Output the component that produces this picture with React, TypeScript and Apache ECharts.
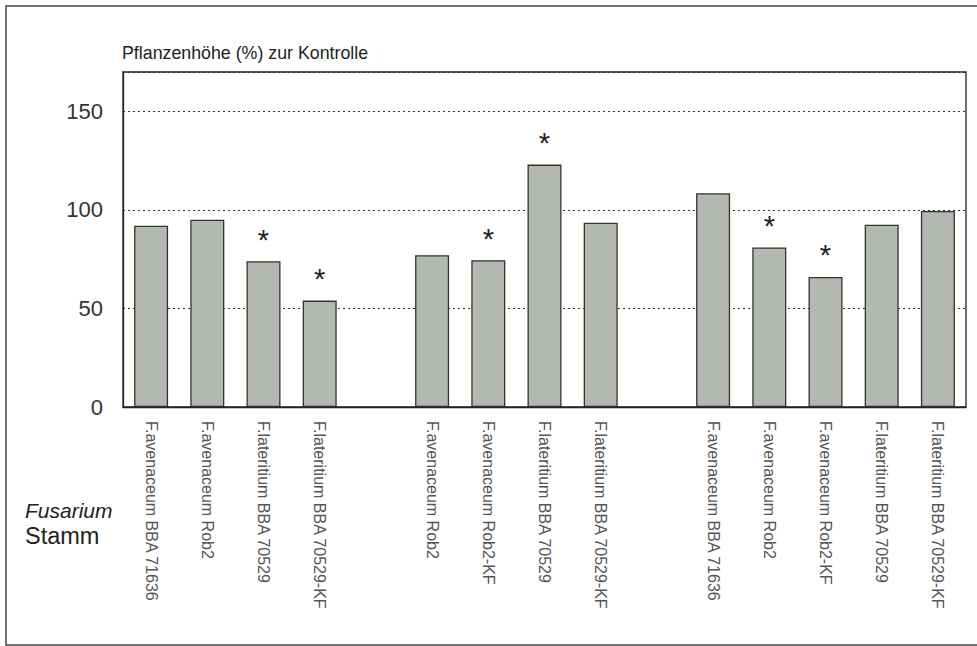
import React, { useEffect, useRef } from "react";
import * as echarts from "echarts";

// Categories ('' = spacer between strain groups)
const categories: string[] = [
  "F.avenaceum BBA 71636",
  "F.avenaceum Rob2",
  "F.lateritium BBA 70529",
  "F.lateritium BBA 70529-KF",
  "",
  "F.avenaceum Rob2",
  "F.avenaceum Rob2-KF",
  "F.lateritium BBA 70529",
  "F.lateritium BBA 70529-KF",
  "",
  "F.avenaceum BBA 71636",
  "F.avenaceum Rob2",
  "F.avenaceum Rob2-KF",
  "F.lateritium BBA 70529",
  "F.lateritium BBA 70529-KF",
];

// Plant height (% of control)
const heights: (number | null)[] = [92, 95, 74, 54, null, 77, 74.5, 123, 93.5, null, 108.5, 81, 66, 92.5, 99.5];

// Significance markers (*)
const significant: boolean[] = [false, false, true, true, false, false, true, true, false, false, false, true, true, false, false];

const yTicks = [0, 50, 100, 150];

const FONT = "'Liberation Sans', Arial, Helvetica, sans-serif";

export default function App() {
  const ref = useRef<HTMLDivElement>(null);

  useEffect(() => {
    if (!ref.current) return;
    const chart = echarts.init(ref.current, null, { renderer: "svg" });

    const data = heights.map((v, i) =>
      v === null
        ? "-"
        : {
            value: v,
            label: significant[i]
              ? {
                  show: true,
                  position: "top",
                  distance: 7,
                  formatter: "*",
                  fontSize: 29,
                  fontFamily: FONT,
                  color: "#222",
                }
              : { show: false },
          }
    );

    chart.setOption({
      animation: false,
      backgroundColor: "#ffffff",
      textStyle: { fontFamily: FONT },
      grid: {
        left: 123,
        right: 11,
        top: 72,
        bottom: 239,
        show: true,
        borderColor: "#222",
        borderWidth: 1.3,
        containLabel: false,
      },
      title: {
        text: "Pflanzenhöhe (%) zur Kontrolle",
        left: 122,
        top: 44,
        padding: 0,
        textStyle: { fontFamily: FONT, fontSize: 17.8, fontWeight: "normal", color: "#222" },
      },
      xAxis: {
        type: "category",
        data: categories,
        axisLine: { show: true, lineStyle: { color: "#222", width: 1.3 } },
        axisTick: { show: false },
        axisLabel: {
          rotate: -90,
          interval: 0,
          margin: 14,
          fontSize: 16,
          fontFamily: FONT,
          color: "#555",
        },
      },
      yAxis: {
        type: "value",
        min: 0,
        max: 170,
        interval: 50,
        axisLine: { show: true, lineStyle: { color: "#222", width: 1.3 } },
        axisTick: { show: false },
        axisLabel: {
          showMaxLabel: false,
          margin: 20,
          fontSize: 22,
          fontFamily: FONT,
          color: "#333",
          formatter: (v: number) => (yTicks.includes(v) ? String(v) : ""),
        },
        splitLine: {
          show: true,
          lineStyle: { color: "#333", type: [2, 3], width: 1 },
        },
      },
      series: [
        {
          type: "bar",
          data,
          barWidth: 34,
          itemStyle: { color: "#b3b8b1", borderColor: "#333", borderWidth: 1.3 },
        },
      ],
      graphic: [
        {
          type: "rect",
          shape: { x: 6, y: 6, width: 1000, height: 639 },
          style: { fill: "none", stroke: "#444", lineWidth: 1.5 },
          silent: true,
        },
        {
          type: "text",
          left: 25,
          top: 500,
          style: {
            text: "Fusarium",
            font: `italic 21px ${FONT}`,
            fill: "#222",
          },
        },
        {
          type: "text",
          left: 25,
          top: 524,
          style: {
            text: "Stamm",
            font: `23.5px ${FONT}`,
            fill: "#222",
          },
        },
      ],
    });

    return () => chart.dispose();
  }, []);

  return (
    <div
      ref={ref}
      style={{ position: "fixed", left: 0, top: 0, width: 977, height: 646 }}
    />
  );
}
